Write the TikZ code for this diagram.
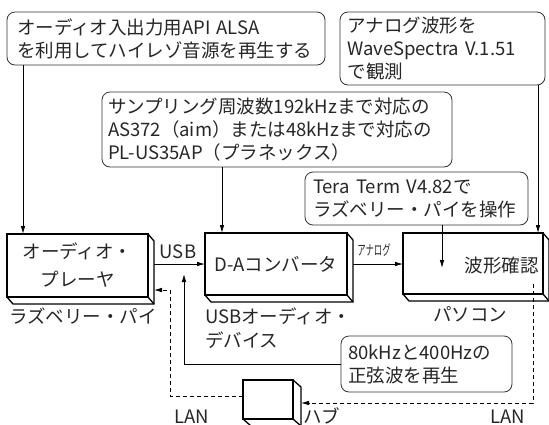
\documentclass[tikz,border=0pt]{standalone}
\usepackage{fontspec}
\setmainfont{Noto Sans CJK JP}
\usetikzlibrary{arrows.meta,calc}
\tikzset{
  txt/.style={font=\fontsize{18.5}{23}\selectfont, text=black!85, inner sep=0pt, outer sep=0pt},
  callout/.style={draw=black!80, line width=0.8pt, rounded corners=8pt, txt, align=left},
  box3d/.style={draw=black, line width=2pt, outer sep=0pt, inner sep=0pt, txt, align=center},
  extr/.style={draw=black, line width=1.3pt, line join=miter},
  arr/.style={line width=0.8pt, -{Latex[length=8pt,width=4.5pt]}},
  dasharr/.style={arr, dash pattern=on 4pt off 3pt},
}
\newcommand\extrudebox[3]{%
  \draw[extr] (#1.north east) -- ++(#2,#3) -- ($(#1.south east)+(#2,#3)$) -- ($(#1.south west)+(#2,#3)$) -- (#1.south west);
  \draw[extr] (#1.south east) -- ++(#2,#3);}
\begin{document}
\begin{tikzpicture}[x=1pt,y=-1pt]
\useasboundingbox (0,0) rectangle (549,424);

% callouts
\node[callout, minimum width=318pt, minimum height=53pt, text width=298pt] (c1) at (166,38.5)
  {オーディオ入出力用API ALSA\\を利用してハイレゾ音源を再生する};
\node[callout, minimum width=205pt, minimum height=73pt, text width=190pt] (c2) at (442.5,48.5)
  {アナログ波形を\\WaveSpectra V.1.51\\で観測};
\node[callout, minimum width=350pt, minimum height=75pt, text width=338pt] (c3) at (277,129.5)
  {サンプリング周波数192kHzまで対応の\\AS372（aim）または48kHzまで対応の\\PL-US35AP（プラネックス）};
\node[callout, minimum width=223pt, minimum height=53pt, text width=207pt] (c4) at (416.5,198.5)
  {Tera Term V4.82で\\ラズベリー・パイを操作};
\node[callout, minimum width=171pt, minimum height=56pt, text width=157pt] (c5) at (426.5,364)
  {80kHzと400Hzの\\正弦波を再生};

% 3D boxes
\node[box3d, minimum width=141pt, minimum height=63pt] (A) at (77.5,265.5) {オーディオ・\\[5pt]プレーヤ};
\extrudebox{A}{6}{7}
\node[box3d, minimum width=142pt, minimum height=62pt] (B) at (276,264) {D-Aコンバータ};
\extrudebox{B}{6}{7}
\node[box3d, minimum width=140pt, minimum height=61pt] (C) at (473,263.5) {};
\extrudebox{C}{6}{7}
\node[txt] (Ct) at (501.5,266) {波形確認};
\node[box3d, minimum width=50pt, minimum height=39pt] (H) at (268,399.5) {};
\extrudebox{H}{8}{7}

% labels
\node[txt] (lA) at (83,316) {ラズベリー・パイ};
\node[txt, anchor=west, align=left, font=\fontsize{18.5}{24}\selectfont] (lB) at (205,328) {USBオーディオ・\\デバイス};
\node[txt] (lC) at (470,314) {パソコン};
\node[txt] (usb) at (178,252) {USB};
\node[txt, font=\fontsize{14}{14}\selectfont] (ana) at (374,250) {\scalebox{0.6}[1]{アナログ}};
\node[txt, anchor=base west] (lan1) at (174,423) {LAN};
\node[txt, anchor=base west] (lan2) at (490,423) {LAN};
\node[txt, anchor=base west] (hub) at (303,423) {ハブ};

% callout connectors
\draw[arr] ([xshift=-143pt]c1.south) -- ([xshift=-143pt]c1.south |- A.north);
\draw[arr] ([xshift=-55pt]c3.south) -- ([xshift=-55pt]c3.south |- B.north);
\draw[arr] ([xshift=95.5pt]c2.south) -- ([xshift=95.5pt]c2.south |- C.north);
\draw[arr] ([xshift=25.5pt]c4.south) -- ++(0,43);

% signal connectors
\coordinate (usbS) at ($(A.north east)+(6,30)$);
\draw[arr] (usbS) -- (usbS -| B.west);
\coordinate (anS) at ($(B.north east)+(6,31)$);
\draw[arr] (anS) -- (anS -| C.west);
\coordinate (c5end) at (184,274);
\draw[arr] (c5.west) -| (c5end);

% LAN
\coordinate (Aside) at ($(A.east)+(6,0)$);
\coordinate (dl) at (170,290);
\draw[dasharr] ([yshift=3.5pt]H.west) -| (dl) -- (dl -| Aside);
\coordinate (Hside) at ($(H.east)+(8,3.5)$);
\coordinate (dr) at (533,284);
\draw[dasharr] (dr) |- (Hside);
\end{tikzpicture}
\end{document}
